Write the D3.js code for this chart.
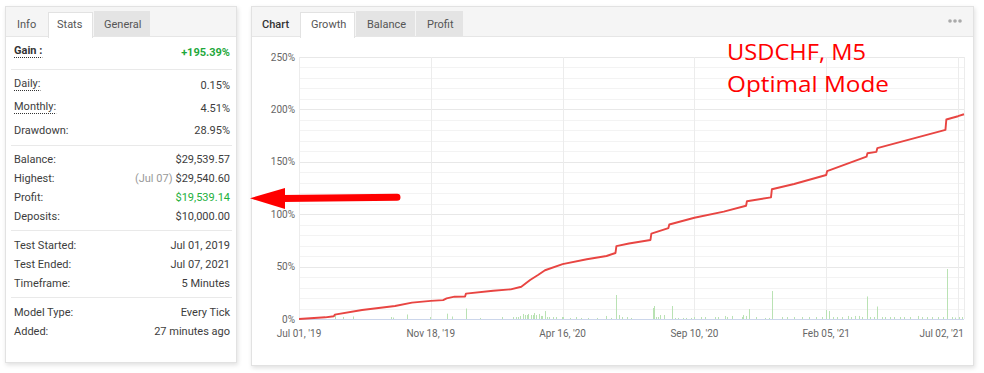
<!DOCTYPE html>
<meta charset="utf-8">
<style>
body { margin: 0; background: #fff; }
svg { font-family: Roboto, "Open Sans", sans-serif; }
.row-label { font-size: 11px; fill: #3d3d3d; }
.row-value { font-size: 11px; fill: #3d3d3d; text-anchor: end; }
.tab { font-size: 11px; fill: #555; }
.axis-label { font-size: 10px; fill: #666; }
.note { font-family: "Open Sans", sans-serif; font-size: 21px; fill: #f00; }
</style>
<svg width="984" height="373"></svg>
<script src="https://cdn.jsdelivr.net/npm/d3@7"></script>
<script>
// stats panel
var statLabels = ["Gain :", "Daily:", "Monthly:", "Drawdown:", "Balance:", "Highest:", "Profit:",
                  "Deposits:", "Test Started:", "Test Ended:", "Timeframe:", "Model Type:", "Added:"];
var statValues = ["+195.39%", "0.15%", "4.51%", "28.95%", "$29,539.57", "$29,540.60", "$19,539.14",
                  "$10,000.00", "Jul 01, 2019", "Jul 07, 2021", "5 Minutes", "Every Tick", "27 minutes ago"];
var highestNote = "(Jul 07)";

// growth chart (days since Jul 01, 2019)
var tickLabels = ["Jul 01, '19", "Nov 18, '19", "Apr 16, '20", "Sep 10, '20", "Feb 05, '21", "Jul 02, '21"];
var tickDays = [0, 140, 290, 437, 585, 732];
var lastDay = 737;
var yTicks = [0, 50, 100, 150, 200, 250];

var growthDays = [0, 28, 37, 38, 67, 102, 120, 140, 154, 158,
                  167, 179, 180, 211, 231, 243, 253, 262, 270, 290,
                  317, 339, 349, 350, 364, 388, 389, 408, 409, 437,
                  470, 495, 496, 523, 524, 549, 585, 586, 630, 631,
                  641, 642, 718, 719, 732, 737];
var growthValues = [0, 1.6, 2.6, 4.2, 8.6, 12.4, 15.6, 17.3, 18.0, 19.7,
                    21.3, 21.5, 24.2, 27.0, 28.3, 30.8, 37.2, 42.0, 46.5, 52.3,
                    57.0, 60.1, 63.0, 69.5, 72.0, 75.4, 81.4, 86.8, 90.2, 96.6,
                    102.4, 108.1, 112.4, 116.1, 123.8, 128.8, 137.4, 141.0, 154.9, 158.2,
                    159.5, 163.0, 180.5, 190.4, 193.5, 195.39];

var barDays = [38, 47, 57, 98, 100, 115, 139, 158, 164, 180,
               196, 221, 233, 237, 239, 242, 245, 247, 249, 251,
               254, 256, 258, 260, 263, 265, 267, 270, 272, 275,
               279, 282, 289, 291, 298, 305, 311, 318, 328, 338,
               344, 350, 353, 356, 362, 366, 391, 392, 394, 396,
               399, 403, 412, 415, 419, 424, 428, 433, 436, 444,
               449, 460, 464, 471, 474, 479, 490, 492, 495, 498,
               506, 516, 521, 524, 535, 541, 549, 558, 566, 574,
               580, 585, 588, 593, 597, 603, 609, 613, 617, 622,
               625, 631, 634, 638, 642, 647, 651, 656, 661, 667,
               672, 678, 687, 692, 697, 703, 710, 715, 720, 725,
               729, 733, 735];
var barLots = [0.38, 0.19, 0.24, 0.19, 0.14, 0.43, 0.19, 0.51, 0.24, 1.00,
               0.10, 0.19, 0.19, 0.19, 0.19, 0.29, 0.48, 0.38, 0.38, 0.48,
               0.38, 0.38, 0.57, 0.38, 0.48, 0.29, 0.29, 0.76, 0.19, 0.19,
               0.19, 0.19, 0.19, 0.19, 0.10, 0.19, 0.10, 0.10, 0.10, 0.29,
               0.10, 2.29, 0.38, 0.19, 0.19, 0.10, 1.05, 1.24, 0.19, 0.19,
               0.38, 0.38, 1.24, 0.10, 0.10, 0.10, 0.10, 0.10, 0.19, 0.19,
               0.19, 0.19, 0.19, 0.29, 0.19, 0.29, 0.19, 0.38, 0.29, 0.95,
               0.19, 0.10, 0.10, 2.67, 0.19, 0.19, 0.19, 0.19, 0.19, 0.19,
               0.19, 0.86, 0.76, 0.19, 0.19, 0.19, 0.29, 0.19, 0.29, 0.29,
               0.19, 2.15, 0.19, 0.19, 1.19, 0.19, 0.19, 0.19, 0.19, 0.19,
               0.19, 0.19, 0.29, 0.19, 0.19, 0.19, 0.19, 0.19, 4.77, 0.19,
               0.14, 0.19, 0.19];

var svg = d3.select("svg");
var defs = svg.append("defs");
var shadow = defs.append("filter").attr("id", "shadow")
    .attr("x", "-5%").attr("y", "-5%").attr("width", "110%").attr("height", "110%");
shadow.append("feDropShadow").attr("dx", 1).attr("dy", 2).attr("stdDeviation", 2)
    .attr("flood-color", "#000").attr("flood-opacity", 0.12);

function panel(x, y, w, h) {
  var p = svg.append("g");
  p.append("rect").attr("x", x + 0.5).attr("y", y + 0.5).attr("width", w).attr("height", h)
      .attr("fill", "#fff").attr("stroke", "#e2e2e2").attr("filter", "url(#shadow)");
  p.append("rect").attr("x", x + 1).attr("y", y + 1).attr("width", w - 1).attr("height", 29)
      .attr("fill", "#f5f5f5");
  p.append("line").attr("x1", x + 1).attr("x2", x + w).attr("y1", y + 30.5).attr("y2", y + 30.5)
      .attr("stroke", "#e6e6e6");
  return p;
}

function tab(p, x, w, label, active, tx) {
  if (active) {
    p.append("rect").attr("x", x + 0.5).attr("y", 12.5).attr("width", w).attr("height", 25)
        .attr("fill", "#fff").attr("stroke", "#e2e2e2");
    p.append("rect").attr("x", x + 1).attr("y", 35).attr("width", w - 1).attr("height", 4).attr("fill", "#fff");
  } else if (w) {
    p.append("rect").attr("x", x).attr("y", 11).attr("width", w).attr("height", 25).attr("fill", "#e4e4e4");
  }
  p.append("text").attr("class", "tab").attr("x", tx).attr("y", 28).text(label);
}

// ---- left stats panel
var left = panel(5, 6, 231, 356);
tab(left, 0, 0, "Info", false, 17);
tab(left, 48, 44, "Stats", true, 57);
tab(left, 94, 56, "General", false, 104);

var rowMid = [50, 83, 106, 130, 159, 178, 197, 216, 245, 264, 283, 312, 331];
var underlined = [0, 1, 2];
[69, 145, 230, 297].forEach(function(y) {
  left.append("line").attr("x1", 11).attr("x2", 232).attr("y1", y + 0.5).attr("y2", y + 0.5)
      .attr("stroke", "#e9e9e9");
});

statLabels.forEach(function(l, i) {
  var t = left.append("text").attr("class", "row-label").attr("x", 14).attr("y", rowMid[i] + 4).text(l);
  if (i === 0) t.attr("font-weight", "bold").style("fill", "#333");
  if (underlined.indexOf(i) >= 0) {
    var w = t.node().getComputedTextLength();
    left.append("line").attr("x1", 14).attr("x2", 14 + w).attr("y1", rowMid[i] + 7.5).attr("y2", rowMid[i] + 7.5)
        .attr("stroke", "#333").attr("stroke-dasharray", "1,1");
  }
  var v = left.append("text").attr("class", "row-value").attr("x", 230)
      .attr("y", rowMid[i] + 4 + (underlined.indexOf(i) >= 0 ? 2 : 0)).text(statValues[i]);
  if (i === 0) v.attr("font-weight", "bold").style("fill", "#1fa83c");
  if (i === 6) v.style("fill", "#22b03c");
  if (i === 5) {
    var vw = v.node().getComputedTextLength();
    left.append("text").attr("class", "row-value").attr("x", 230 - vw - 3).attr("y", rowMid[i] + 4)
        .style("fill", "#999").text(highestNote);
  }
});

// ---- right chart panel
var right = panel(251, 6, 722, 359);
right.append("text").attr("x", 262).attr("y", 28).style("font-size", "11px").style("fill", "#333")
    .attr("font-weight", 500).text("Chart");
tab(right, 300, 54, "Growth", true, 311);
tab(right, 356, 59, "Balance", false, 367);
tab(right, 416, 47, "Profit", false, 427);
[950, 955, 960].forEach(function(cx) {
  right.append("circle").attr("cx", cx).attr("cy", 21).attr("r", 1.8).attr("fill", "#aaa");
});

var margin = {top: 57, left: 299},
    plotW = 665, plotH = 262, step = 131.8;
var g = svg.append("g").attr("transform", "translate(" + margin.left + "," + margin.top + ")");

var x = d3.scaleLinear()
    .domain(tickDays.concat([lastDay]))
    .range(tickDays.map(function(d, i) { return i * step; }).concat([plotW]));
var y = d3.scaleLinear().domain([0, 250]).range([plotH, 0]);
var yBar = d3.scaleLinear().domain([0, 25]).range([plotH, 0]);

// minor grid
g.append("g").selectAll("line").data(d3.range(0, 251, 10)).enter().append("line")
    .attr("x1", 0).attr("x2", plotW)
    .attr("y1", function(d) { return Math.round(y(d)) + 0.5; })
    .attr("y2", function(d) { return Math.round(y(d)) + 0.5; })
    .attr("stroke", "#f3f3f3");
// major grid
g.append("g").selectAll("line").data(yTicks).enter().append("line")
    .attr("x1", 0).attr("x2", plotW)
    .attr("y1", function(d) { return Math.round(y(d)) + 0.5; })
    .attr("y2", function(d) { return Math.round(y(d)) + 0.5; })
    .attr("stroke", "#e8e8e8");
g.append("g").selectAll("line").data(tickDays.concat([lastDay])).enter().append("line")
    .attr("x1", function(d) { return Math.round(x(d)) + 0.5; })
    .attr("x2", function(d) { return Math.round(x(d)) + 0.5; })
    .attr("y1", 0).attr("y2", plotH)
    .attr("stroke", "#ececec");

// y labels
g.append("g").selectAll("text").data(yTicks).enter().append("text")
    .attr("class", "axis-label").attr("text-anchor", "end")
    .attr("x", -4).attr("y", function(d) { return y(d) + 3.5; })
    .text(function(d) { return d + "%"; });

// x labels
g.append("g").selectAll("text").data(tickDays).enter().append("text")
    .attr("class", "axis-label").attr("text-anchor", "middle")
    .attr("x", function(d) { return x(d); }).attr("y", plotH + 18)
    .text(function(d, i) { return tickLabels[i]; })
    .each(function(d) {
      var w = this.getComputedTextLength();
      if (x(d) + w / 2 > plotW) d3.select(this).attr("text-anchor", "end").attr("x", plotW);
    });

// volume bars
g.append("g").selectAll("rect").data(barDays).enter().append("rect")
    .attr("x", function(d) { return Math.round(x(d)); })
    .attr("width", 1)
    .attr("y", function(d, i) { return yBar(barLots[i]); })
    .attr("height", function(d, i) { return plotH - yBar(barLots[i]); })
    .attr("fill", "#b9e2b3");

g.append("line").attr("x1", 0).attr("x2", plotW).attr("y1", plotH + 0.5).attr("y2", plotH + 0.5)
    .attr("stroke", "#ccd6eb");

// growth line
var line = d3.line()
    .x(function(d, i) { return x(d); })
    .y(function(d, i) { return y(growthValues[i]); });
g.append("path").datum(growthDays).attr("d", line)
    .attr("fill", "none").attr("stroke", "#e84542").attr("stroke-width", 1.9)
    .attr("stroke-linejoin", "round");

// annotations
svg.append("text").attr("class", "note").attr("x", 727).attr("y", 60)
    .attr("textLength", 139).attr("lengthAdjust", "spacingAndGlyphs").text("USDCHF, M5");
svg.append("text").attr("class", "note").attr("x", 727).attr("y", 92)
    .attr("textLength", 162).attr("lengthAdjust", "spacingAndGlyphs").text("Optimal Mode");

svg.append("line").attr("x1", 282).attr("y1", 198.5).attr("x2", 397).attr("y2", 197.3)
    .attr("stroke", "#f00").attr("stroke-width", 7).attr("stroke-linecap", "round");
svg.append("path").attr("d", "M250,198.3L285,188L285,209Z").attr("fill", "#f00");
</script>
